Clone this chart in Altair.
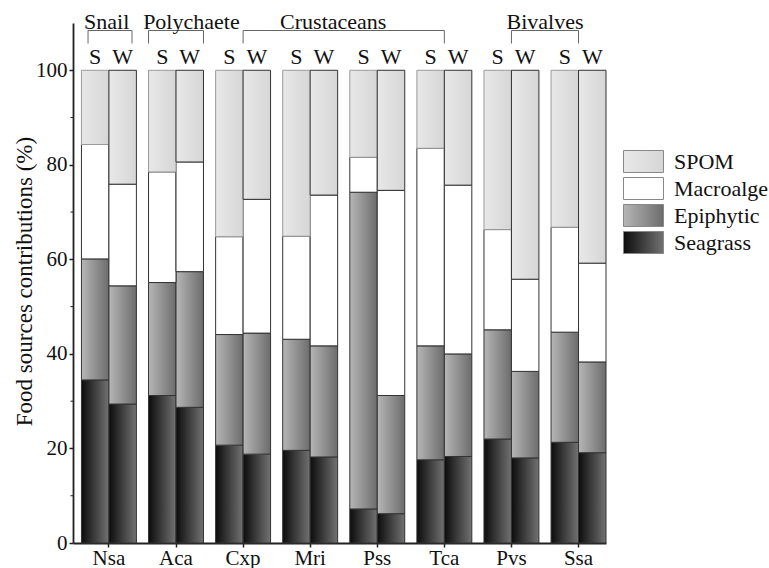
import altair as alt
import pandas as pd

# Species (x groups), seasons (bars within a group) and food sources
species = ["Nsa", "Aca", "Cxp", "Mri", "Pss", "Tca", "Pvs", "Ssa"]
seasons = ["S", "W"]
sources = ["SPOM", "Macroalge", "Epiphytic", "Seagrass"]          # legend order
stack_order = ["Seagrass", "Epiphytic", "Macroalge", "SPOM"]      # bottom -> top

# Contributions (%) per source, one value per species
seagrass_s = [34.5, 31.2, 20.7, 19.6, 7.2, 17.6, 22.0, 21.3]
seagrass_w = [29.4, 28.7, 18.8, 18.2, 6.2, 18.3, 18.0, 19.1]
epiphytic_s = [25.6, 23.9, 23.4, 23.5, 67.0, 24.1, 23.1, 23.3]
epiphytic_w = [25.0, 28.7, 25.6, 23.5, 25.0, 21.7, 18.3, 19.2]
macroalge_s = [24.2, 23.4, 20.7, 21.8, 7.4, 41.8, 21.2, 22.2]
macroalge_w = [21.5, 23.2, 28.3, 31.9, 43.4, 35.7, 19.5, 20.9]
spom_s = [15.7, 21.5, 35.2, 35.1, 18.4, 16.5, 33.7, 33.2]
spom_w = [24.1, 19.4, 27.3, 26.4, 25.4, 24.3, 44.2, 40.8]

# Taxonomic groups spanning the species
group_names = ["Snail", "Polychaete", "Crustaceans", "Bivalves"]
group_first = ["Nsa", "Aca", "Cxp", "Pvs"]
group_last = ["Nsa", "Aca", "Tca", "Ssa"]

major_ticks = [0, 20, 40, 60, 80, 100]
minor_ticks = [10, 30, 50, 70, 90]

series = {
    ("Seagrass", "S"): seagrass_s, ("Seagrass", "W"): seagrass_w,
    ("Epiphytic", "S"): epiphytic_s, ("Epiphytic", "W"): epiphytic_w,
    ("Macroalge", "S"): macroalge_s, ("Macroalge", "W"): macroalge_w,
    ("SPOM", "S"): spom_s, ("SPOM", "W"): spom_w,
}
rows = []
for (src, season), vals in series.items():
    for sp, v in zip(species, vals):
        rows.append({"species": sp, "season": season, "source": src,
                     "value": v, "rank": stack_order.index(src)})
df = pd.DataFrame(rows)
groups = pd.DataFrame({"group": group_names, "first": group_first, "last": group_last})
minor_df = pd.DataFrame({"tick": minor_ticks})

FONT = "'Liberation Serif', 'Times New Roman', Times, 'DejaVu Serif', serif"
INK = "#222222"


def grad(c0, c1):
    # horizontal left-to-right gradient for each bar segment
    return {"expr": "{gradient: 'linear', x1: 0, y1: 0, x2: 1, y2: 0, "
                    f"stops: [{{offset: 0, color: '{c0}'}}, {{offset: 1, color: '{c1}'}}]}}"}


fills = [grad("#e8e8e8", "#d6d6d6"), "#ffffff",
         grad("#b6b6b6", "#6c6c6c"), grad("#0c0c0c", "#727272")]

x_scale = alt.Scale(domain=species, paddingInner=0.181, paddingOuter=0.063, align=1)
x_dom = alt.Scale(domain=species)
y_scale = alt.Scale(domain=[0, 110], nice=False, zero=True)

bars = alt.Chart(df).mark_bar(strokeWidth=1).encode(
    x=alt.X("species:N", scale=x_scale, sort=species,
            axis=alt.Axis(title=None, labelAngle=0, labelFont=FONT, labelFontSize=21,
                          labelColor="#111", labelPadding=0, tickSize=4, tickWidth=1.5,
                          tickColor=INK, domainColor=INK, domainWidth=1.8, grid=False)),
    xOffset=alt.XOffset("season:N", sort=seasons,
                        scale=alt.Scale(domain=seasons, paddingInner=0, paddingOuter=0)),
    y=alt.Y("value:Q", stack="zero", scale=y_scale,
            axis=alt.Axis(values=major_ticks, title="Food sources contributions (%)",
                          grid=False, labelFont=FONT, labelFontSize=21, labelColor="#111",
                          labelPadding=2, tickSize=4, tickWidth=1.5, tickColor=INK,
                          domainColor=INK, domainWidth=1.8,
                          titleFont=FONT, titleFontSize=23, titleFontWeight="normal",
                          titleColor="#111", titleAngle=270, titleBaseline="alphabetic",
                          titleX=-42, titleY=258)),
    color=alt.Color("source:N", scale=alt.Scale(domain=sources, range=fills),
                    legend=alt.Legend(title=None, orient="none", legendX=559, legendY=127,
                                      padding=0, rowPadding=0, labelOffset=19,
                                      labelFont=FONT, labelFontSize=22, labelColor="#111",
                                      labelLimit=300, symbolSize=484,
                                      symbolType="M-1.818,-1H1.818V1H-1.818Z",
                                      symbolStrokeColor="#888888", symbolStrokeWidth=1)),
    stroke=alt.condition("datum.season == 'S' && datum.source == 'SPOM'",
                         alt.value("#9a9a9a"), alt.value("#333333")),
    order=alt.Order("rank:Q", sort="ascending"),
)

minor = alt.Chart(minor_df).mark_rule(color=INK, strokeWidth=1).encode(
    y=alt.Y("tick:Q", scale=y_scale, axis=None),
    x=alt.value(-2.5), x2=alt.value(0),
)

season_labels = alt.Chart(df).transform_filter("datum.source == 'SPOM'").mark_text(
    font=FONT, fontSize=22, baseline="alphabetic", color="#111"
).encode(
    x=alt.X("species:N", scale=x_dom, axis=None),
    xOffset=alt.XOffset("season:N", sort=seasons),
    y=alt.value(40.5),
    text="season:N",
)

layers = [bars, minor, season_labels]

# bracket extent (band positions) and label anchor/offset for each group
bracket_style = {
    "Snail": (0.12, 0.92, "first", 0.46, 0),
    "Polychaete": (0.0, 1.0, "first", 0.78, 0),
    "Crustaceans": (0.5, 0.5, "Mri", 0.92, 0),
    "Bivalves": (0.5, 0.5, "last", 0.0, -6),
}

for name in group_names:
    b0, b1, anchor, lbp, ldx = bracket_style[name]
    gsel = alt.Chart(groups).transform_filter(f"datum.group == '{name}'")
    line = gsel.mark_rule(color="#666666", strokeWidth=1)
    layers.append(line.encode(
        x=alt.X("first:N", bandPosition=b0, scale=x_dom, axis=None),
        x2=alt.X2("last:N", bandPosition=b1),
        y=alt.value(7.5)))
    layers.append(line.encode(
        x=alt.X("first:N", bandPosition=b0, scale=x_dom, axis=None),
        y=alt.value(7.5), y2=alt.value(20.5)))
    layers.append(line.encode(
        x=alt.X("last:N", bandPosition=b1, scale=x_dom, axis=None),
        y=alt.value(7.5), y2=alt.value(20.5)))
    lbl = gsel.mark_text(font=FONT, fontSize=22, baseline="alphabetic", color="#111", dx=ldx)
    if anchor in ("first", "last"):
        layers.append(lbl.encode(
            x=alt.X(f"{anchor}:N", bandPosition=lbp, scale=x_dom, axis=None),
            y=alt.value(5.5), text="group:N"))
    else:
        layers.append(lbl.transform_calculate(anchor=f"'{anchor}'").encode(
            x=alt.X("anchor:N", bandPosition=lbp, scale=x_dom, axis=None),
            y=alt.value(5.5), text="group:N"))

chart = alt.layer(*layers).resolve_axis(x="independent", y="independent").properties(
    width=533, height=520,
    background="white",
    autosize=alt.AutoSizeParams(type="none"),
    padding={"left": 73, "top": 23, "right": 163, "bottom": 25},
).configure_view(stroke=None)

chart.save("out.html", embed_options={"renderer": "svg", "actions": False})
